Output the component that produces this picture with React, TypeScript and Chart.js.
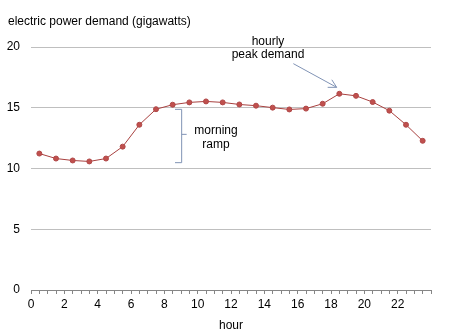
import React, { useEffect, useRef } from "react";
import { Chart, registerables } from "chart.js";

Chart.register(...registerables);

const hours = [0.5, 1.5, 2.5, 3.5, 4.5, 5.5, 6.5, 7.5, 8.5, 9.5, 10.5, 11.5, 12.5, 13.5, 14.5, 15.5, 16.5, 17.5, 18.5, 19.5, 20.5, 21.5, 22.5, 23.5];
const demand = [11.23, 10.82, 10.66, 10.58, 10.82, 11.8, 13.6, 14.88, 15.25, 15.44, 15.52, 15.44, 15.27, 15.17, 15.01, 14.86, 14.93, 15.33, 16.15, 15.98, 15.47, 14.76, 13.6, 12.28];
const xTickLabels = ["0", "2", "4", "6", "8", "10", "12", "14", "16", "18", "20", "22"];
const yTitle = "electric power demand (gigawatts)";
const xTitle = "hour";
const peakLabel = ["hourly", "peak demand"];
const rampLabel = ["morning", "ramp"];

const FONT = "'Liberation Sans', Arial, sans-serif";
const ANNOT = "#8093b5";

const annotationPlugin = {
  id: "annotations",
  afterDatasetsDraw(chart: any) {
    const { ctx, scales, chartArea } = chart;
    const xs = scales.x;
    const ys = scales.y;
    const px = (v: number) => xs.getPixelForValue(v);
    const py = (v: number) => ys.getPixelForValue(v);
    ctx.save();
    ctx.font = `12px ${FONT}`;
    ctx.fillStyle = "#000";
    ctx.textBaseline = "middle";
    // axis title at top-left
    ctx.textAlign = "left";
    ctx.fillText(yTitle, 8, chartArea.top - 25);
    // peak label
    ctx.textAlign = "center";
    ctx.fillText(peakLabel[0], px(14.22), py(20.47));
    ctx.fillText(peakLabel[1], px(14.22), py(19.37));
    // ramp label
    ctx.fillText(rampLabel[0], px(11.1), py(13.11));
    ctx.fillText(rampLabel[1], px(11.1), py(12.0));
    // arrow
    ctx.strokeStyle = ANNOT;
    ctx.lineWidth = 1;
    const x1 = px(15.74), y1 = py(18.63), x2 = px(18.34), y2 = py(16.68);
    ctx.beginPath();
    ctx.moveTo(x1, y1);
    ctx.lineTo(x2, y2);
    const ang = Math.atan2(y2 - y1, x2 - x1);
    const len = 9;
    ctx.moveTo(x2 - len * Math.cos(ang - 0.5), y2 - len * Math.sin(ang - 0.5));
    ctx.lineTo(x2, y2);
    ctx.lineTo(x2 - len * Math.cos(ang + 0.5), y2 - len * Math.sin(ang + 0.5));
    ctx.stroke();
    // brace
    const bx = px(9.04), bl = px(8.64), bn = px(9.34);
    const bt = py(14.87), bb = py(10.48), bm = py(12.81);
    ctx.beginPath();
    ctx.moveTo(bl, bt);
    ctx.lineTo(bx, bt);
    ctx.lineTo(bx, bb);
    ctx.lineTo(bl, bb);
    ctx.moveTo(bx, bm);
    ctx.lineTo(bn, bm);
    ctx.stroke();
    ctx.restore();
  },
};

export default function App() {
  const ref = useRef<HTMLCanvasElement>(null);
  useEffect(() => {
    document.body.style.margin = "0";
    document.body.style.overflow = "hidden";
    const canvas = ref.current!;
    const chart = new Chart(canvas, {
      type: "line",
      data: {
        datasets: [
          {
            data: hours.map((h, i) => ({ x: h, y: demand[i] })),
            borderColor: "#a8403f",
            borderWidth: 1,
            backgroundColor: "#c0504d",
            pointBackgroundColor: "#c0504d",
            pointBorderColor: "#b04848",
            pointRadius: 2.5,
            pointBorderWidth: 1,
            tension: 0,
          },
        ],
      },
      options: {
        animation: false,
        responsive: false,
        devicePixelRatio: 1,
        layout: { padding: { left: 0, top: 47, right: 38, bottom: 0 } },
        plugins: { legend: { display: false }, tooltip: { enabled: false }, title: { display: false } },
        scales: {
          x: {
            type: "linear",
            min: 0,
            max: 24,
            afterBuildTicks: (scale: any) => {
              const t: any[] = [];
              for (let i = 0; i <= 48; i++) t.push({ value: i / 2 });
              scale.ticks = t;
            },
            afterFit: (scale: any) => {
              scale.height = 44;
            },
            ticks: {
              autoSkip: false,
              maxRotation: 0,
              minRotation: 0,
              padding: 3,
              color: "#000",
              font: { family: FONT, size: 12 },
              callback: (v: any) => {
                const n = Number(v);
                if (Math.abs(n - Math.round(n)) > 1e-6) return "";
                const s = String(Math.round(n));
                return xTickLabels.includes(s) ? s : "";
              },
            },
            grid: { display: true, drawOnChartArea: false, drawTicks: true, tickLength: 4, color: "#868686" },
            border: { display: true, color: "#868686" },
            title: {
              display: true,
              text: xTitle,
              color: "#000",
              font: { family: FONT, size: 12 },
              padding: { top: 0, bottom: 1 },
            },
          },
          y: {
            min: 0,
            max: 20,
            afterFit: (scale: any) => {
              scale.width = 31;
            },
            ticks: {
              stepSize: 5,
              padding: 11,
              color: "#000",
              font: { family: FONT, size: 12 },
            },
            grid: { color: "#bfbfbf", drawTicks: false },
            border: { display: false },
          },
        },
      },
      plugins: [annotationPlugin],
    } as any);
    return () => chart.destroy();
  }, []);
  return <canvas ref={ref} width={469} height={334} style={{ display: "block" }} />;
}
